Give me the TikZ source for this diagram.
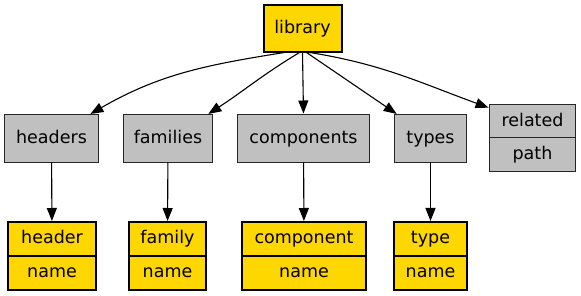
\documentclass[tikz,border=0pt]{standalone}
\usepackage{fontspec}
\setmainfont{DejaVu Sans}
\definecolor{libGold}{HTML}{FFD700}
\definecolor{libGrey}{HTML}{C0C0C0}
\usetikzlibrary{arrows.meta, positioning}

\begin{document}
\begin{tikzpicture}[x=1pt,y=1pt]
                \tikzset{
                    gold/.style={rectangle, draw=black, fill=libGold, line width=2pt,
                        inner sep=0pt, outer sep=0pt, text height=13pt, text depth=3.5pt,
                        font=\fontsize{17.5}{20}\selectfont},
                    grey/.style={rectangle, draw=black!85, fill=libGrey, line width=1pt,
                        inner sep=0pt, outer sep=0pt, text height=13pt, text depth=3.5pt,
                        font=\fontsize{17.5}{20}\selectfont},
                    link/.style={-{Triangle[length=13pt,width=10pt]}, line width=1.1pt, shorten >=1pt},
                }
                \useasboundingbox (0,0) rectangle (581,-296);

                % Root
                \node[gold, minimum width=78pt, minimum height=47pt] (library) at (302.5,-29) {library};

                % Collections
                \node[grey, minimum width=94pt, minimum height=48pt] (headers) at (51.5,-138.5) {headers};
                \node[grey, minimum width=89pt, minimum height=48pt] (families) at (168,-138.5) {families};
                \node[grey, minimum width=132pt, minimum height=48pt] (components) at (303.5,-138.5) {components};
                \node[grey, minimum width=72pt, minimum height=48pt] (types) at (430.5,-138.5) {types};
                \node[grey, minimum width=86pt, minimum height=33pt] (related) at (532.5,-121.5) {related};
                \node[grey, minimum width=86pt, minimum height=34pt, anchor=north] (relatedpath) at (related.south) {path};

                % Records
                \node[gold, minimum width=88pt, minimum height=34pt] (header) at (52,-239) {header};
                \node[gold, minimum width=88pt, minimum height=34pt, anchor=north] (headername) at (header.south) {name};
                \node[gold, minimum width=77pt, minimum height=34pt] (family) at (167.5,-239) {family};
                \node[gold, minimum width=77pt, minimum height=34pt, anchor=north] (familyname) at (family.south) {name};
                \node[gold, minimum width=124pt, minimum height=34pt] (component) at (304,-239) {component};
                \node[gold, minimum width=124pt, minimum height=34pt, anchor=north] (componentname) at (component.south) {name};
                \node[gold, minimum width=73pt, minimum height=34pt] (type) at (430.5,-239) {type};
                \node[gold, minimum width=73pt, minimum height=34pt, anchor=north] (typename) at (type.south) {name};

                % Edges from the root
                \draw[link] ([xshift=-18pt]library.south) to[out=189,in=30] ([xshift=-9pt]headers.north east);
                \draw[link] ([xshift=-3pt]library.south) to[out=211,in=33] ([xshift=-5pt]families.north east);
                \draw[link] (library.south) -- (components.north);
                \draw[link] ([xshift=4pt]library.south) -- ([xshift=-33pt]types.north);
                \draw[link] ([xshift=7pt]library.south) to[out=-9,in=160] ([yshift=-3pt]related.north west);

                % Edges to the records
                \draw[link] (headers) -- (header);
                \draw[link] (families) -- (family);
                \draw[link] (components) -- (component);
                \draw[link] (types) -- (type);
            \end{tikzpicture}
\end{document}
